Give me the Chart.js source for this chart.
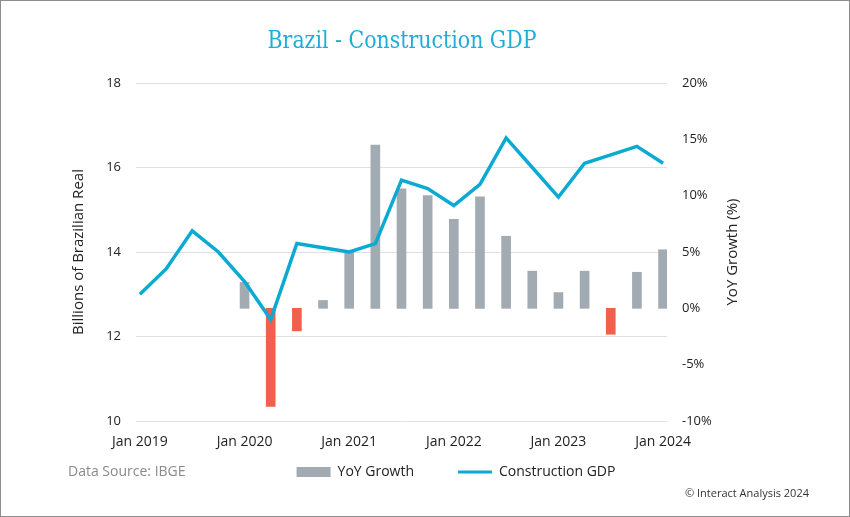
<!DOCTYPE html>
<html>
<head>
<meta charset="utf-8">
<script src="https://cdn.jsdelivr.net/npm/chart.js@4/dist/chart.umd.min.js"></script>
<style>
  body { margin: 0; background: #fff; }
  #frame { position: absolute; left: 0; top: 0; width: 850px; height: 517px; box-sizing: border-box; border: 1px solid #8c8c8c; }
  #wrap { position: absolute; left: 0; top: 0; width: 850px; height: 517px; }
</style>
</head>
<body>
<div id="frame"></div>
<div id="wrap"><canvas id="canvas"></canvas></div>
<script>
// quarterly points, Q1 2019 .. Q1 2024
const quarters = ["Q1 2019", "Q2 2019", "Q3 2019", "Q4 2019",
  "Q1 2020", "Q2 2020", "Q3 2020", "Q4 2020",
  "Q1 2021", "Q2 2021", "Q3 2021", "Q4 2021",
  "Q1 2022", "Q2 2022", "Q3 2022", "Q4 2022",
  "Q1 2023", "Q2 2023", "Q3 2023", "Q4 2023",
  "Q1 2024"];
const gdp = [13.0, 13.6, 14.5, 14.0,
  13.3, 12.4, 14.2, 14.1,
  14.0, 14.2, 15.7, 15.5,
  15.1, 15.6, 16.7, 16.0,
  15.3, 16.1, 16.3, 16.5,
  16.1];
const yoy = [null, null, null, null,
  2.3, -8.7, -2.0, 0.7,
  5.0, 14.5, 10.6, 10.0,
  7.9, 9.9, 6.4, 3.3,
  1.4, 3.3, -2.3, 3.2,
  5.2];
const tickLabels = ["Jan 2019", "Jan 2020", "Jan 2021", "Jan 2022", "Jan 2023", "Jan 2024"];

const GRAY = "#a3abb2";
const RED = "#f0604a";
const CYAN = "#0aaad2";
const FONT = "'Open Sans', 'Noto Sans', sans-serif";

const barData = [];
yoy.forEach((v, i) => { if (v !== null) barData.push({ x: i, y: v }); });
const lineData = gdp.map((v, i) => ({ x: i, y: v }));

const extras = {
  id: "extras",
  afterDraw(chart) {
    const ctx = chart.ctx;
    ctx.save();
    // title
    ctx.font = "25px 'DejaVu Serif Condensed', 'DejaVu Serif', serif";
    ctx.fillStyle = "#1fadd6";
    ctx.textBaseline = "middle";
    ctx.textAlign = "center";
    const tw = ctx.measureText("Brazil - Construction GDP").width;
    ctx.translate(402, 41);
    ctx.scale(269 / tw, 1);
    ctx.fillText("Brazil - Construction GDP", 0, 0);
    ctx.restore();

    ctx.save();
    ctx.font = "15px " + FONT;
    ctx.fillStyle = "#222";
    ctx.textAlign = "center";
    ctx.textBaseline = "middle";
    ctx.translate(733, 252);
    ctx.rotate(-Math.PI / 2);
    ctx.fillText("YoY Growth (%)", 0, 0);
    ctx.restore();

    ctx.save();
    ctx.textBaseline = "middle";
    ctx.font = "14px " + FONT;
    ctx.fillStyle = "#8a8a8a";
    ctx.fillText("Data Source: IBGE", 68, 472);
    ctx.font = "11px " + FONT;
    ctx.fillStyle = "#333";
    ctx.fillText("\u00a9 Interact Analysis 2024", 685, 494);
    ctx.restore();
  }
};

const ctx = document.getElementById("canvas").getContext("2d");
const myChart = new Chart(ctx, {
  type: "bar",
  data: {
    datasets: [
      {
        type: "bar",
        label: "YoY Growth",
        data: barData,
        yAxisID: "y1",
        order: 1,
        barThickness: 9,
        backgroundColor: (c) => (c.raw && c.raw.y < 0 ? RED : GRAY),
      },
      {
        type: "line",
        label: "Construction GDP",
        data: lineData,
        yAxisID: "y",
        order: 0,
        borderColor: CYAN,
        backgroundColor: CYAN,
        borderWidth: 3.5,
        pointRadius: 0,
        tension: 0,
      },
    ],
  },
  plugins: [extras],
  options: {
    responsive: true,
    maintainAspectRatio: false,
    animation: false,
    layout: { padding: { left: 62, right: 0, top: 83, bottom: 28 } },
    plugins: {
      tooltip: { enabled: false },
      legend: {
        position: "bottom",
        labels: {
          usePointStyle: true,
          pointStyleWidth: 34,
          boxHeight: 10,
          padding: 44,
          color: "#222",
          font: { family: FONT, size: 14 },
          sort: (a, b) => a.datasetIndex - b.datasetIndex,
          generateLabels: (chart) => {
            const items = Chart.defaults.plugins.legend.labels.generateLabels(chart);
            items.forEach((it) => {
              if (it.datasetIndex === 0) {
                it.pointStyle = "rect";
                it.fillStyle = GRAY;
                it.strokeStyle = GRAY;
                it.lineWidth = 0;
              } else {
                it.pointStyle = "line";
                it.strokeStyle = CYAN;
                it.lineWidth = 3;
              }
            });
            return items;
          },
        },
      },
    },
    scales: {
      x: {
        type: "linear",
        offset: false,
        min: -0.15,
        max: quarters.length - 1 + 0.15,
        grid: { display: false, drawTicks: false },
        border: { display: false },
        afterBuildTicks: (axis) => {
          axis.ticks = tickLabels.map((t, i) => ({ value: i * 4 }));
        },
        // labels sit below the plot, legend follows straight after
        afterFit: (axis) => { axis.height = 0; },
        ticks: {
          color: "#222",
          font: { family: FONT, size: 14 },
          mirror: true,
          padding: -29,
          maxRotation: 0,
          autoSkip: false,
          callback: (v) => tickLabels[v / 4],
        },
      },
      y: {
        position: "left",
        min: 10,
        max: 18,
        afterFit: (axis) => { axis.width = 136 - 62; },
        grid: { color: "#dde1e5", drawTicks: false },
        border: { display: false },
        ticks: {
          stepSize: 2,
          padding: 15,
          color: "#222",
          font: { family: FONT, size: 13 },
        },
        title: {
          display: true,
          text: "Billions of Brazilian Real",
          color: "#222",
          font: { family: FONT, size: 15 },
          padding: { top: 8, bottom: 0 },
        },
      },
      y1: {
        position: "right",
        min: -10,
        max: 20,
        afterFit: (axis) => { axis.width = 850 - 667; },
        grid: { display: false, drawTicks: false },
        border: { display: false },
        ticks: {
          stepSize: 5,
          padding: 15,
          color: "#222",
          font: { family: FONT, size: 13 },
          callback: (v) => v + "%",
        },
      },
    },
  },
});
</script>
</body>
</html>
